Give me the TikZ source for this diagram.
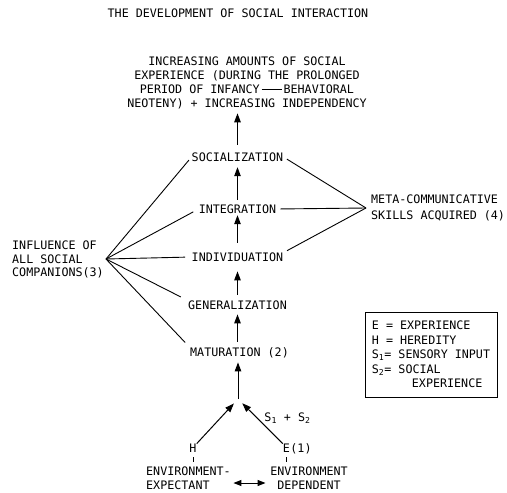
\documentclass[tikz,border=0pt]{standalone}
\usepackage{fontspec}
\setmainfont{DejaVu Sans Mono}
\usetikzlibrary{arrows.meta,calc}
\begin{document}
\begin{tikzpicture}[x=1pt,y=-1pt,
  every node/.style={font=\fontsize{11.7}{14}\selectfont, inner sep=0pt},
  lbl/.style={text height=8.4pt, text depth=0pt},
  up/.style={-{Triangle[length=9pt,width=6.5pt]}, line width=1pt},
  dbl/.style={{Triangle[length=8pt,width=6pt]}-{Triangle[length=8pt,width=6pt]}, line width=1pt},
  ln/.style={line width=0.9pt}]
\useasboundingbox (0,0) rectangle (507,493);
\node[lbl] (title) at (238,13) {THE DEVELOPMENT OF SOCIAL INTERACTION};
\node[align=center] (top) at (247,83) {INCREASING AMOUNTS OF SOCIAL\\EXPERIENCE (DURING THE PROLONGED\\PERIOD OF INFANCY\,\rule[3.6pt]{20pt}{0.8pt}\,BEHAVIORAL\\NEOTENY) + INCREASING INDEPENDENCY};
\node[lbl] (soc) at (237.5,157) {SOCIALIZATION};
\node[lbl] (integ) at (237.5,209) {INTEGRATION};
\node[lbl] (ind) at (237.5,257) {INDIVIDUATION};
\node[lbl] (gen) at (237.5,305) {GENERALIZATION};
\node[lbl] (mat) at (239.5,352) {MATURATION (2)};
\coordinate (j) at (238,399);
\node[lbl] (h) at (193,448) {H};
\node[lbl] (e) at (286.5,448) {E};
\node[lbl, anchor=west] (e1) at (e.east) {(1)};
\node[lbl] (s12) at (287.5,417) {S\textsubscript{1} + S\textsubscript{2}};
\node[align=left, anchor=west] (envl) at (146,478) {ENVIRONMENT-\\EXPECTANT};
\node[align=center] (envr) at (309,478) {ENVIRONMENT\\DEPENDENT};
\node[align=left, anchor=west, font=\fontsize{11.7}{13.5}\selectfont] (infl) at (12,259.5) {INFLUENCE OF\\ALL SOCIAL\\COMPANIONS(3)};
\coordinate (lh) at (106,259);
\coordinate (rh) at (366,208);
\node[align=left, anchor=west, font=\fontsize{11.7}{16}\selectfont] (meta) at (371,208) {META-COMMUNICATIVE\\SKILLS ACQUIRED (4)};
\node[draw, line width=0.9pt, minimum width=132pt, minimum height=85pt, align=left, font=\fontsize{11.7}{14.5}\selectfont] (leg) at (431,354.5) {E = EXPERIENCE\\H = HEREDITY\\S\textsubscript{1}= SENSORY INPUT\\S\textsubscript{2}= SOCIAL\\\hspace*{40pt}EXPERIENCE};
% vertical chain
\draw[up, shorten <=7.8pt, shorten >=4pt] (soc.north) -- (soc.north |- top.south);
\draw[up, shorten <=4.8pt, shorten >=5.8pt] (integ) -- (soc);
\draw[up, shorten <=9.8pt, shorten >=1.8pt] (ind) -- (integ);
\draw[up, shorten <=5.8pt, shorten >=10pt] (gen) -- (ind);
\draw[up, shorten <=6pt, shorten >=5pt] (mat.north -| gen.south) -- (gen.south);
\draw[up, shorten >=6pt] (j) -- (j |- mat.south);
\draw[up, shorten >=6pt] (h.north east) -- (j);
\draw[up, shorten >=6pt] (e.north west) -- (j);
\draw[ln, shorten <=4.8pt, shorten >=4.8pt] (h.south) -- (h.south |- envl.north);
\draw[ln, shorten <=4.8pt, shorten >=4.8pt] (e.south) -- (e.south |- envr.north);
\draw[dbl, shorten <=2.5pt, shorten >=4.5pt] ([yshift=-5pt]envl.east) -- ([yshift=-5pt]envr.west);
% left fan
\draw[ln, shorten >=4pt] (lh) -- (soc.west);
\draw[ln, shorten >=6pt] (lh) -- (integ.west);
\draw[ln, shorten >=6.5pt] (lh) -- (ind.west);
\draw[ln, shorten >=8pt] (lh) -- (gen.north west);
\draw[ln, shorten >=7pt] (lh) -- (mat.north west);
% right fan
\draw[ln, shorten >=4pt] (rh) -- (soc.east);
\draw[ln, shorten >=4pt] (rh) -- (integ.east);
\draw[ln, shorten >=4pt] (rh) -- (ind.north east);
\end{tikzpicture}
\end{document}
